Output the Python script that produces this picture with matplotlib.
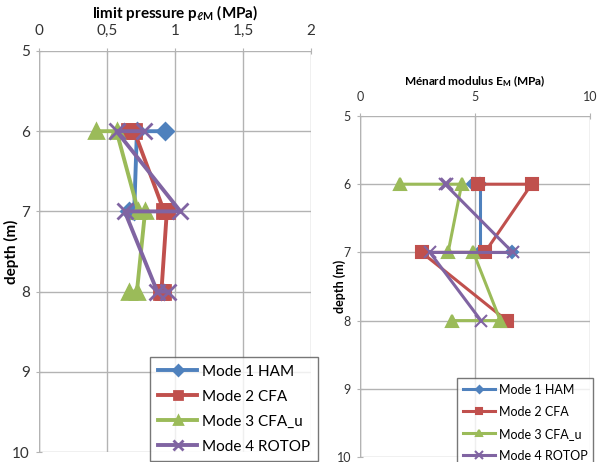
import numpy as np
import matplotlib
matplotlib.use("Agg")
import matplotlib.pyplot as plt

plt.rcParams['font.family'] = ['Lato', 'DejaVu Sans']
plt.rcParams['mathtext.default'] = 'regular'

# limit pressure p_lM (MPa) vs depth (m)
pl_ham_x = [0.93, 0.72, 0.70, 0.66]
pl_ham_y = [6, 6, 7, 7]
pl_cfa_x = [0.66, 0.70, 0.92, 0.94, 0.90, 0.91]
pl_cfa_y = [6, 6, 7, 7, 8, 8]
pl_cfau_x = [0.42, 0.57, 0.73, 0.78, 0.72, 0.66]
pl_cfau_y = [6, 6, 7, 7, 8, 8]
pl_rotop_x = [0.77, 0.57, 1.04, 0.63, 0.87, 0.95]
pl_rotop_y = [6, 6, 7, 7, 8, 8]

# Menard modulus E_M (MPa) vs depth (m)
em_ham_x = [4.9, 5.2, 5.2, 6.6]
em_ham_y = [6, 6, 7, 7]
em_cfa_x = [5.14, 7.46, 5.43, 2.68, 6.38]
em_cfa_y = [6, 6, 7, 7, 8]
em_cfau_x = [1.74, 4.42, 3.83, 4.93, 6.1, 3.99]
em_cfau_y = [6, 6, 7, 7, 8, 8]
em_rotop_x = [3.8, 3.7, 6.64, 3.04, 5.26]
em_rotop_y = [6, 6, 7, 7, 8]

labels = ['Mode 1 HAM', 'Mode 2 CFA', 'Mode 3 CFA_u', 'Mode 4 ROTOP']
colors = ['#4F81BD', '#C0504D', '#9BBB59', '#8064A2']
markers = ['D', 's', '^', 'x']

W, H = 597, 462
fig = plt.figure(figsize=(W / 100, H / 100), dpi=100)


def style_axes(ax, xticks, xlabels, fs):
    ax.set_ylim(10, 5)
    ax.set_yticks(range(5, 11))
    ax.set_xticks(xticks)
    ax.set_xticklabels(xlabels)
    ax.xaxis.tick_top()
    ax.xaxis.set_label_position('top')
    ax.grid(True, color='#b3b3b3', lw=1)
    for s in ax.spines.values():
        s.set_visible(False)
    ax.axvline(xticks[0], color='#b3b3b3', lw=1, zorder=0)
    ax.tick_params(axis='both', length=5, direction='inout', color='#b3b3b3',
                   labelsize=fs, labelcolor='#333333', pad=4)
    ax.tick_params(axis='x', pad=7)
    ax.set_axisbelow(True)


# left chart
ax1 = fig.add_axes([39 / W, 1 - 452 / H, (311 - 39) / W, (452 - 51) / H])
ax1.set_xlim(0, 2)
style_axes(ax1, [0, 0.5, 1, 1.5, 2], ['0', '0,5', '1', '1,5', '2'], 11)
series1 = [(pl_ham_x, pl_ham_y), (pl_cfa_x, pl_cfa_y), (pl_cfau_x, pl_cfau_y),
           (pl_rotop_x, pl_rotop_y)]
ms1 = [8, 10, 10, 11]
for (x, y), c, m, ms, lab in zip(series1, colors, markers, ms1, labels):
    ax1.plot(x, y, color=c, marker=m, ms=ms, lw=2.8, mew=2, label=lab)
ax1.set_xlabel(r'limit pressure p$_{\ell M}$ (MPa)', fontsize=11,
               fontweight='bold', labelpad=4)
ax1.set_ylabel('depth (m)', fontsize=11, fontweight='bold')
ax1.yaxis.set_label_coords(-20 / 272, 0.5)
leg1 = ax1.legend(loc='upper left', bbox_to_anchor=((150 - 39) / 272, (452 - 357) / 401),
                  borderaxespad=0, frameon=True, fancybox=False, edgecolor='#555555',
                  fontsize=11, handlelength=2.6, handletextpad=0.3, borderpad=0.5,
                  labelspacing=0.72, markerscale=0.6)
leg1.get_frame().set_linewidth(1)

# right chart
ax2 = fig.add_axes([360 / W, 1 - 457 / H, (590 - 360) / W, (457 - 116) / H])
ax2.set_xlim(0, 10)
style_axes(ax2, [0, 5, 10], ['0', '5', '10'], 9)
series2 = [(em_ham_x, em_ham_y), (em_cfa_x, em_cfa_y), (em_cfau_x, em_cfau_y),
           (em_rotop_x, em_rotop_y)]
ms2 = [6, 8, 8, 9]
for (x, y), c, m, ms, lab in zip(series2, colors, markers, ms2, labels):
    ax2.plot(x, y, color=c, marker=m, ms=ms, lw=2.2, mew=1.5, label=lab)
ax2.set_xlabel(r'Ménard modulus E$_{M}$ (MPa)', fontsize=8.5,
               fontweight='bold', labelpad=4)
ax2.set_ylabel('depth (m)', fontsize=9, fontweight='bold')
ax2.yaxis.set_label_coords(-14 / 230, 0.5)
leg2 = ax2.legend(loc='upper left', bbox_to_anchor=((457 - 360) / 230, (457 - 378) / 341),
                  borderaxespad=0, frameon=True, fancybox=False, edgecolor='#555555',
                  fontsize=9, handlelength=2.6, handletextpad=0.3, borderpad=0.45,
                  labelspacing=0.8, markerscale=0.6)
leg2.get_frame().set_linewidth(1)

fig.savefig('out.png', dpi=100)
